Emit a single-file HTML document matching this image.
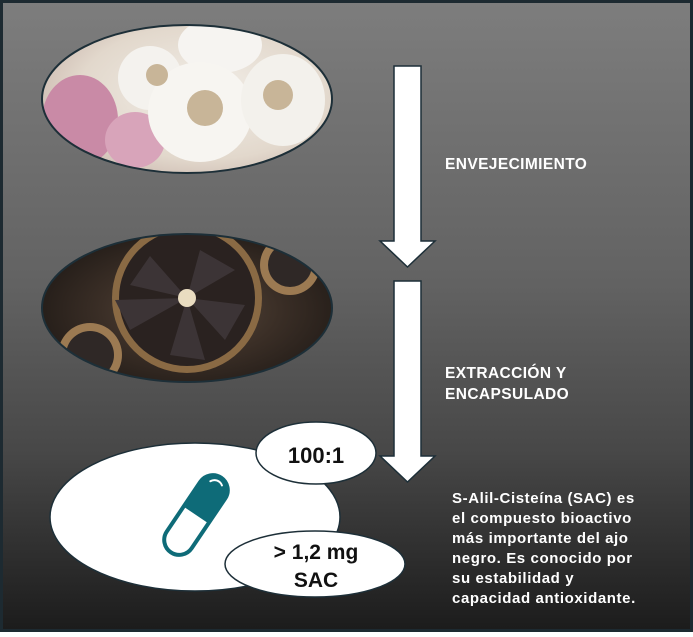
<!DOCTYPE html>
<html><head><meta charset="utf-8"><style>
html,body{margin:0;padding:0}
body{width:693px;height:632px;overflow:hidden;font-family:"Liberation Sans",sans-serif}
</style></head><body>
<svg width="693" height="632" viewBox="0 0 693 632" xmlns="http://www.w3.org/2000/svg">
<defs>
<linearGradient id="bg" x1="0" y1="0" x2="0" y2="1">
<stop offset="0" stop-color="#7d7d7d"/>
<stop offset="0.45" stop-color="#626262"/>
<stop offset="0.72" stop-color="#474747"/>
<stop offset="1" stop-color="#1c1c1c"/>
</linearGradient>
<radialGradient id="g1" cx="0.55" cy="0.45" r="0.7">
<stop offset="0" stop-color="#f2eee8"/>
<stop offset="0.6" stop-color="#e2d8cc"/>
<stop offset="1" stop-color="#bfa8a0"/>
</radialGradient>
<radialGradient id="g2" cx="0.5" cy="0.5" r="0.6">
<stop offset="0" stop-color="#5a4a3c"/>
<stop offset="0.5" stop-color="#3a2e26"/>
<stop offset="1" stop-color="#1c1714"/>
</radialGradient>
<clipPath id="c1"><ellipse cx="187" cy="99" rx="145" ry="74"/></clipPath>
<clipPath id="c2"><ellipse cx="187" cy="308" rx="145" ry="74"/></clipPath>
</defs>
<rect x="0" y="0" width="693" height="632" fill="#1d2a31"/>
<rect x="3" y="3" width="687" height="626" fill="url(#bg)"/>

<g clip-path="url(#c1)">
<rect x="40" y="20" width="300" height="160" fill="url(#g1)"/>
<ellipse cx="80" cy="120" rx="38" ry="45" fill="#c98aa6"/>
<ellipse cx="135" cy="140" rx="30" ry="28" fill="#d8a4ba"/>
<ellipse cx="150" cy="78" rx="32" ry="32" fill="#f4f2ee"/>
<ellipse cx="220" cy="45" rx="42" ry="28" fill="#f6f4f1"/>
<ellipse cx="200" cy="112" rx="52" ry="50" fill="#f7f5f1"/>
<ellipse cx="283" cy="100" rx="42" ry="46" fill="#f3f1ec"/>
<circle cx="205" cy="108" r="18" fill="#c8b598"/>
<circle cx="278" cy="95" r="15" fill="#c8b598"/>
<circle cx="157" cy="75" r="11" fill="#c8b598"/>
</g>
<ellipse cx="187" cy="99" rx="145" ry="74" fill="none" stroke="#1d2f38" stroke-width="2"/>

<g clip-path="url(#c2)">
<rect x="40" y="230" width="300" height="160" fill="url(#g2)"/>
<circle cx="187" cy="298" r="75" fill="#8a6a44"/>
<circle cx="187" cy="298" r="68" fill="#2a2220"/>
<path d="M187 298 L150 256 L130 285 Z M187 298 L200 250 L235 270 Z M187 298 L245 305 L225 340 Z M187 298 L205 360 L170 355 Z M187 298 L130 330 L115 300 Z" fill="#3c3436"/>
<circle cx="187" cy="298" r="9" fill="#e9dcc0"/>
<circle cx="290" cy="265" r="30" fill="#9c7a52"/>
<circle cx="290" cy="265" r="22" fill="#2f2826"/>
<circle cx="90" cy="355" r="32" fill="#9c7a52"/>
<circle cx="90" cy="355" r="24" fill="#2f2826"/>
</g>
<ellipse cx="187" cy="308" rx="145" ry="74" fill="none" stroke="#1d2f38" stroke-width="2"/>

<path d="M394 66 H421 V241 H435 L407.5 267 L380 241 H394 Z" fill="#fff" stroke="#1d2f38" stroke-width="1.5"/>
<path d="M394 281 H421 V456 H435 L407.5 482 L380 456 H394 Z" fill="#fff" stroke="#1d2f38" stroke-width="1.5"/>

<g fill="#fff" font-weight="bold" font-size="15.5" letter-spacing="0.4">
<text x="445" y="169">ENVEJECIMIENTO</text>
<text x="445" y="378">EXTRACCIÓN Y</text>
<text x="445" y="399">ENCAPSULADO</text>
</g>

<ellipse cx="195" cy="517" rx="145" ry="74" fill="#fff" stroke="#1d2f38" stroke-width="1.5"/>
<g transform="translate(196,515) rotate(34)">
<rect x="-15" y="-45" width="30" height="90" rx="15" fill="#fff" stroke="#0e6b78" stroke-width="4"/>
<path d="M-15 0 V-30 A15 15 0 0 1 15 -30 V0 Z" fill="#0e6b78"/>
<path d="M-7 -36 A8 8 0 0 1 5 -39" fill="none" stroke="#fff" stroke-width="2" stroke-linecap="round"/>
</g>
<ellipse cx="316" cy="453" rx="60" ry="31" fill="#fff" stroke="#1d2f38" stroke-width="1.5"/>
<text x="316" y="463" text-anchor="middle" font-weight="bold" font-size="22" fill="#111">100:1</text>
<ellipse cx="315" cy="564" rx="90" ry="33" fill="#fff" stroke="#1d2f38" stroke-width="1.5"/>
<text x="316" y="559" text-anchor="middle" font-weight="bold" font-size="21" fill="#111">&gt; 1,2 mg</text>
<text x="316" y="587" text-anchor="middle" font-weight="bold" font-size="21" fill="#111">SAC</text>

<g fill="#fff" font-weight="bold" font-size="15" letter-spacing="0.6">
<text x="452" y="503">S-Alil-Cisteína (SAC) es</text>
<text x="452" y="523">el compuesto bioactivo</text>
<text x="452" y="543">más importante del ajo</text>
<text x="452" y="563">negro. Es conocido por</text>
<text x="452" y="583">su estabilidad y</text>
<text x="452" y="603">capacidad antioxidante.</text>
</g>
</svg>
</body></html>
